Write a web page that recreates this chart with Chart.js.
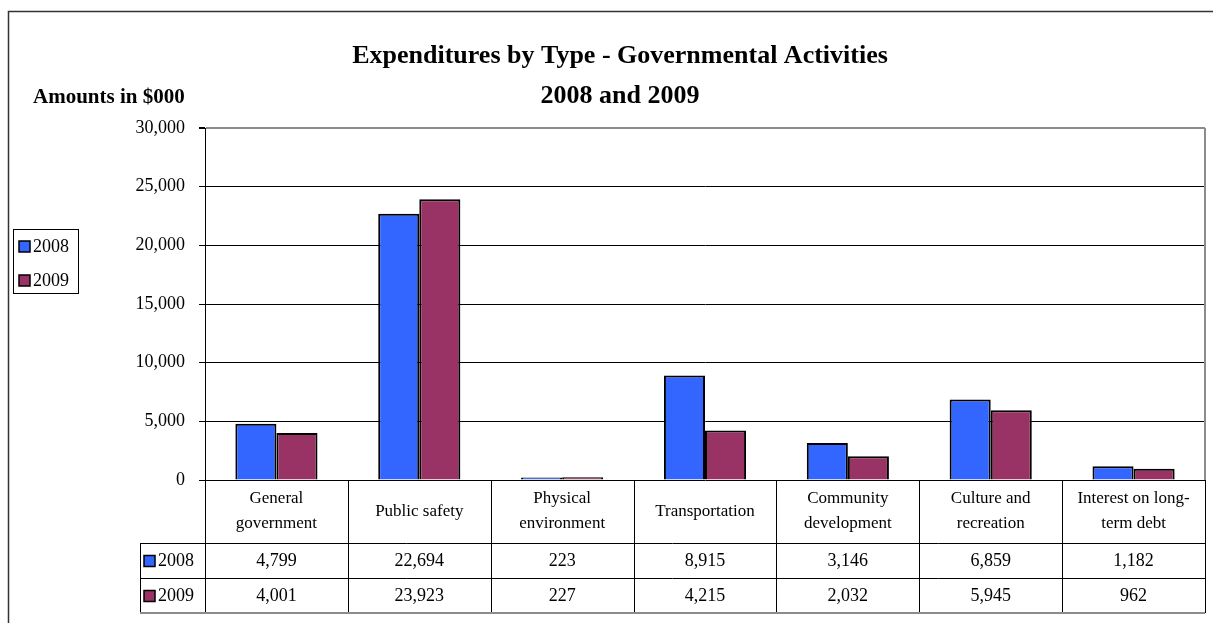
<!DOCTYPE html>
<html>
<head>
<meta charset="utf-8">
<script src="https://cdn.jsdelivr.net/npm/chart.js@4/dist/chart.umd.min.js"></script>
<style>
  html, body { margin: 0; padding: 0; background: #fff; }
  #wrap { width: 1213px; height: 623px; position: relative; }
</style>
</head>
<body>
<div id="wrap"><canvas id="expChart" width="1213" height="623"></canvas></div>
<script>
// Data
const categories = [
    ['General', 'government'],
    ['Public safety'],
    ['Physical', 'environment'],
    ['Transportation'],
    ['Community', 'development'],
    ['Culture and', 'recreation'],
    ['Interest on long-', 'term debt']
];
const years = ['2008', '2009'];
const values2008 = [4799, 22694, 223, 8915, 3146, 6859, 1182];
const values2009 = [4001, 23923, 227, 4215, 2032, 5945, 962];
const yTicks = [0, 5000, 10000, 15000, 20000, 25000, 30000];

const colors = ['#3366FF', '#993366'];
const serif = '"Liberation Serif", "Times New Roman", serif';

function fmt(n) {
    return n.toLocaleString('en-US');
}

// frame, titles, side legend and the data table below the plot
const extrasPlugin = {
    id: 'extras',
    afterDraw(chart) {
        const ctx = chart.ctx;
        const area = chart.chartArea;
        const xs = chart.scales.x;
        const n = categories.length;
        const step = area.width / n;

        ctx.save();

        // outer frame
        ctx.strokeStyle = '#333';
        ctx.lineWidth = 1.5;
        ctx.beginPath();
        ctx.moveTo(8.5, 623);
        ctx.lineTo(8.5, 11.5);
        ctx.lineTo(1213, 11.5);
        ctx.stroke();

        // plot area right border
        ctx.strokeStyle = '#8c8c8c';
        ctx.lineWidth = 2;
        ctx.beginPath();
        ctx.moveTo(area.right, area.top);
        ctx.lineTo(area.right, area.bottom);
        ctx.stroke();

        // titles
        ctx.fillStyle = '#000';
        ctx.textAlign = 'center';
        ctx.textBaseline = 'middle';
        ctx.font = 'bold 26px ' + serif;
        ctx.fillText('Expenditures by Type - Governmental Activities', 620, 56);
        ctx.fillText('2008 and 2009', 620, 96);
        ctx.textAlign = 'left';
        ctx.font = 'bold 21px ' + serif;
        ctx.fillText('Amounts in $000', 33, 98);

        // side legend
        ctx.strokeStyle = '#000';
        ctx.lineWidth = 1;
        ctx.strokeRect(13.5, 229.5, 65, 64);
        ctx.font = '18px ' + serif;
        years.forEach((y, i) => {
            const cy = 246 + i * 34;
            ctx.fillStyle = colors[i];
            ctx.fillRect(19, cy - 5, 11, 11);
            ctx.strokeStyle = '#000';
            ctx.lineWidth = 1.5;
            ctx.strokeRect(19, cy - 5, 11, 11);
            ctx.fillStyle = '#000';
            ctx.fillText(y, 33, cy + 1);
        });

        // data table
        const top = area.bottom;
        const row1 = 543, row2 = 578, bottom = 613, legLeft = 140;
        ctx.strokeStyle = '#000';
        ctx.lineWidth = 1;
        ctx.beginPath();
        for (let i = 0; i <= n; i++) {
            const x = Math.round(area.left + i * step) + 0.5;
            ctx.moveTo(x, top);
            ctx.lineTo(x, bottom);
        }
        ctx.moveTo(legLeft + 0.5, row1);
        ctx.lineTo(legLeft + 0.5, bottom);
        ctx.moveTo(legLeft, row1 + 0.5);
        ctx.lineTo(area.right, row1 + 0.5);
        ctx.moveTo(legLeft, row2 + 0.5);
        ctx.lineTo(area.right, row2 + 0.5);
        ctx.stroke();
        ctx.strokeStyle = '#8c8c8c';
        ctx.lineWidth = 2;
        ctx.beginPath();
        ctx.moveTo(legLeft, bottom);
        ctx.lineTo(area.right, bottom);
        ctx.stroke();

        ctx.fillStyle = '#000';
        ctx.textAlign = 'center';
        ctx.font = '17px ' + serif;
        categories.forEach((lines, i) => {
            const cx = xs.getPixelForValue(i);
            const mid = (top + row1) / 2;
            const lh = 25;
            lines.forEach((t, j) => {
                ctx.fillText(t, cx, mid + (j - (lines.length - 1) / 2) * lh);
            });
        });

        ctx.font = '18px ' + serif;
        [values2008, values2009].forEach((vals, r) => {
            const cy = r === 0 ? (row1 + row2) / 2 : (row2 + bottom) / 2;
            vals.forEach((v, i) => {
                ctx.fillText(fmt(v), xs.getPixelForValue(i), cy + 1);
            });
            ctx.fillStyle = colors[r];
            ctx.fillRect(144, cy - 5, 11, 11);
            ctx.strokeStyle = '#000';
            ctx.lineWidth = 1.5;
            ctx.strokeRect(144, cy - 5, 11, 11);
            ctx.fillStyle = '#000';
            ctx.textAlign = 'left';
            ctx.fillText(years[r], 158, cy + 1);
            ctx.textAlign = 'center';
        });

        ctx.restore();
    }
};

const data = {
    labels: categories.map(c => c.join(' ')),
    datasets: [
        {
            label: years[0],
            data: values2008,
            backgroundColor: colors[0],
            borderColor: '#000',
            borderWidth: 2,
            borderSkipped: 'bottom'
        },
        {
            label: years[1],
            data: values2009,
            backgroundColor: colors[1],
            borderColor: '#000',
            borderWidth: 2,
            borderSkipped: 'bottom'
        }
    ]
};

const config = {
    type: 'bar',
    data: data,
    options: {
        responsive: false,
        animation: false,
        layout: { padding: { left: 0, top: 128, right: 8, bottom: 143 } },
        datasets: {
            bar: { categoryPercentage: 0.575, barPercentage: 1.0 }
        },
        scales: {
            x: { display: false },
            y: {
                min: 0,
                max: 30000,
                afterFit(scale) { scale.width = 205; },
                afterBuildTicks(scale) {
                    scale.ticks = yTicks.map(v => ({ value: v }));
                },
                ticks: {
                    color: '#000',
                    padding: 14,
                    font: { family: serif, size: 18 },
                    callback: v => fmt(v)
                },
                grid: {
                    color: c => (c.tick && c.tick.value === 30000 ? '#8c8c8c' : '#000'),
                    lineWidth: c => (c.tick && c.tick.value === 30000 ? 2 : 1),
                    tickLength: 6,
                    tickColor: '#000'
                },
                border: { color: '#000', width: 1 }
            }
        },
        plugins: {
            legend: { display: false },
            title: { display: false },
            tooltip: { enabled: false }
        }
    },
    plugins: [extrasPlugin]
};

new Chart(document.getElementById('expChart'), config);
</script>
</body>
</html>
